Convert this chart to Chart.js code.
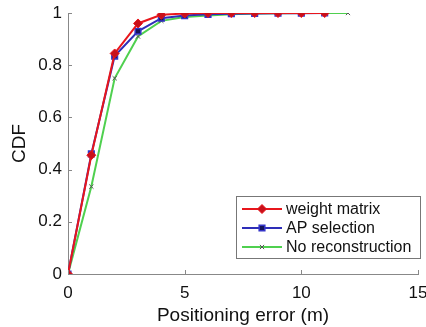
<!DOCTYPE html>
<html>
<head>
<meta charset="utf-8">
<script src="https://cdn.jsdelivr.net/npm/chart.js@4.4.0/dist/chart.umd.min.js"></script>
<style>
  html, body { margin: 0; padding: 0; background: #fff; }
  #wrap { width: 426px; height: 327px; }
</style>
</head>
<body>
<div id="wrap"><canvas id="cdfChart" width="426" height="327"></canvas></div>
<script>
const errorsShort = [0, 1, 2, 3, 4, 5, 6, 7, 8, 9, 10, 11];
const errorsLong = [0, 1, 2, 3, 4, 5, 6, 7, 8, 9, 10, 11, 12];
const weightMatrix = [0, 0.455, 0.845, 0.96, 0.993, 0.998, 1, 1, 1, 1, 1, 1];
const apSelection = [0, 0.46, 0.835, 0.93, 0.98, 0.99, 0.995, 0.997, 0.998, 0.999, 0.999, 1];
const noReconstruction = [0, 0.335, 0.75, 0.91, 0.97, 0.985, 0.99, 0.995, 0.998, 0.999, 1, 1, 1];
const xTicks = [0, 5, 10, 15];
const yTicks = [0, 0.2, 0.4, 0.6, 0.8, 1];

const toPoints = (xs, ys) => xs.map((x, i) => ({ x, y: ys[i] }));

// tick marks pointing into the plot, like the original figure
const innerTicks = {
    id: 'innerTicks',
    afterDraw(chart) {
        const { ctx, chartArea, scales } = chart;
        ctx.save();
        ctx.strokeStyle = '#888';
        ctx.lineWidth = 1;
        ctx.beginPath();
        xTicks.forEach(v => {
            const px = Math.round(scales.x.getPixelForValue(v)) + 0.5;
            ctx.moveTo(px, chartArea.bottom);
            ctx.lineTo(px, chartArea.bottom - 4);
        });
        yTicks.forEach(v => {
            const py = Math.round(scales.y.getPixelForValue(v)) + 0.5;
            ctx.moveTo(chartArea.left, py);
            ctx.lineTo(chartArea.left + 4, py);
        });
        ctx.stroke();
        ctx.restore();
    }
};

// boxed legend in the lower right corner
const boxLegend = {
    id: 'boxLegend',
    afterDraw(chart) {
        const ctx = chart.ctx;
        const left = 236, top = 196, w = 184, h = 62;
        ctx.save();
        ctx.fillStyle = '#fff';
        ctx.fillRect(left, top, w, h);
        ctx.strokeStyle = '#777';
        ctx.lineWidth = 1;
        ctx.strokeRect(left + 0.5, top + 0.5, w, h);
        ctx.font = '16px "Liberation Sans", Arial, sans-serif';
        ctx.textBaseline = 'middle';
        chart.data.datasets.forEach((ds, i) => {
            const y = top + 13 + i * 19;
            ctx.strokeStyle = ds.borderColor;
            ctx.lineWidth = 2;
            ctx.beginPath();
            ctx.moveTo(left + 6, y);
            ctx.lineTo(left + 46, y);
            ctx.stroke();
            ctx.fillStyle = ds.pointBackgroundColor || ds.borderColor;
            ctx.strokeStyle = ds.pointBorderColor;
            ctx.lineWidth = ds.pointBorderWidth;
            Chart.helpers.drawPoint(ctx, {
                pointStyle: ds.pointStyle,
                radius: ds.pointRadius,
                borderWidth: ds.pointBorderWidth
            }, left + 26, y);
            ctx.fillStyle = '#111';
            ctx.fillText(ds.label, left + 50, y + 1);
        });
        ctx.restore();
    }
};

const fontFamily = '"Liberation Sans", Arial, sans-serif';

new Chart(document.getElementById('cdfChart').getContext('2d'), {
    type: 'line',
    data: {
        datasets: [
            {
                label: 'weight matrix',
                data: toPoints(errorsShort, weightMatrix),
                borderColor: '#e8161c',
                backgroundColor: '#e8161c',
                pointBackgroundColor: '#c8101a',
                pointBorderColor: '#e8161c',
                pointStyle: 'rectRot',
                pointRadius: 4.5,
                pointBorderWidth: 1,
                borderWidth: 2,
                tension: 0
            },
            {
                label: 'AP selection',
                data: toPoints(errorsShort, apSelection),
                borderColor: '#2e2eb8',
                backgroundColor: '#2e2eb8',
                pointBackgroundColor: '#15155a',
                pointBorderColor: '#3434c8',
                pointStyle: 'rect',
                pointRadius: 4,
                pointBorderWidth: 1.5,
                borderWidth: 2,
                tension: 0
            },
            {
                label: 'No reconstruction',
                data: toPoints(errorsLong, noReconstruction),
                borderColor: '#4fd04f',
                backgroundColor: '#4fd04f',
                pointBorderColor: '#555',
                pointStyle: 'crossRot',
                pointRadius: 3,
                pointBorderWidth: 1,
                borderWidth: 2,
                tension: 0
            }
        ]
    },
    options: {
        responsive: false,
        animation: false,
        layout: { padding: { left: 0, top: 13, right: 8, bottom: 0 } },
        plugins: {
            legend: { display: false },
            tooltip: { enabled: false }
        },
        scales: {
            x: {
                type: 'linear',
                min: 0,
                max: 15,
                afterBuildTicks: (axis) => { axis.ticks = xTicks.map(v => ({ value: v })); },
                afterFit: (axis) => { axis.height = 53; axis.paddingRight = 0; axis.paddingLeft = 0; },
                grid: { display: false, drawTicks: false },
                border: { display: true, color: '#888', width: 1 },
                ticks: { color: '#111', font: { family: fontFamily, size: 17 }, padding: 9, maxRotation: 0, callback: (v) => String(v) },
                title: { display: true, text: 'Positioning error (m)', color: '#111', font: { family: fontFamily, size: 19 }, padding: { top: 0, bottom: 0 } }
            },
            y: {
                min: 0,
                max: 1,
                afterBuildTicks: (axis) => { axis.ticks = yTicks.map(v => ({ value: v })); },
                afterFit: (axis) => { axis.width = 68; axis.paddingTop = 0; axis.paddingBottom = 0; },
                grid: { display: false, drawTicks: false },
                border: { display: true, color: '#888', width: 1 },
                ticks: { color: '#111', font: { family: fontFamily, size: 17 }, padding: 6, callback: (v) => String(v) },
                title: { display: true, text: 'CDF', color: '#111', font: { family: fontFamily, size: 19 }, padding: { top: 8, bottom: 0 } }
            }
        }
    },
    plugins: [innerTicks, boxLegend]
});
</script>
</body>
</html>
